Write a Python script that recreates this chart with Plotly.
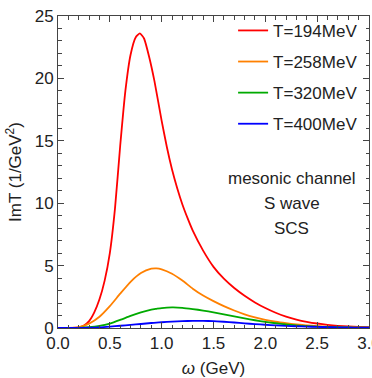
import plotly.graph_objects as go

omega = [0.0, 0.1, 0.2, 0.25, 0.3, 0.35, 0.4, 0.45, 0.5, 0.55, 0.6, 0.65, 0.7, 0.75, 0.79,
         0.83, 0.88, 0.93, 1.0, 1.05, 1.1, 1.15, 1.2, 1.25, 1.3, 1.4, 1.5, 1.6, 1.7, 1.8, 1.9, 2.0,
         2.1, 2.2, 2.3, 2.4, 2.5, 2.6, 2.7, 2.8, 2.9, 3.0]
im_194 = [0.0, 0.0, 0.05, 0.2, 0.55, 1.25, 2.3, 3.8, 6.0, 9.6, 14.6, 19.0, 21.9, 23.3, 23.6,
          23.2, 21.7, 19.8, 16.6, 14.5, 12.7, 11.2, 9.9, 8.8, 7.8, 6.2, 4.9, 3.95, 3.2, 2.58, 2.05, 1.6,
          1.22, 0.92, 0.68, 0.5, 0.36, 0.25, 0.17, 0.12, 0.08, 0.06]

omega_b = [0.0, 0.1, 0.2, 0.3, 0.4, 0.5, 0.6, 0.7, 0.8, 0.9, 0.95, 1.0, 1.1, 1.2, 1.3, 1.4,
           1.5, 1.6, 1.7, 1.8, 1.9, 2.0, 2.1, 2.2, 2.3, 2.4, 2.5, 2.6, 2.7, 2.8, 2.9, 3.0]
im_258 = [0.0, 0.0, 0.06, 0.35, 0.9, 1.75, 2.75, 3.7, 4.4, 4.75, 4.78, 4.7, 4.35, 3.8, 3.15, 2.6,
          2.15, 1.75, 1.4, 1.1, 0.86, 0.66, 0.5, 0.38, 0.28, 0.21, 0.15, 0.11, 0.08, 0.06, 0.04, 0.03]
im_320 = [0.0, 0.0, 0.01, 0.06, 0.17, 0.36, 0.65, 0.97, 1.25, 1.47, 1.54, 1.6, 1.65, 1.62, 1.52, 1.4,
          1.26, 1.1, 0.93, 0.77, 0.62, 0.49, 0.38, 0.29, 0.21, 0.15, 0.11, 0.08, 0.06, 0.04, 0.03, 0.02]
im_400 = [0.0, 0.0, 0.0, 0.02, 0.05, 0.11, 0.18, 0.25, 0.32, 0.4, 0.43, 0.46, 0.51, 0.55, 0.57, 0.57,
          0.55, 0.5, 0.44, 0.37, 0.31, 0.26, 0.21, 0.17, 0.14, 0.11, 0.09, 0.07, 0.05, 0.04, 0.03, 0.02]

series = [
    ("T=194MeV", omega, im_194, "#ff0000"),
    ("T=258MeV", omega_b, im_258, "#ff8000"),
    ("T=320MeV", omega_b, im_320, "#00aa00"),
    ("T=400MeV", omega_b, im_400, "#0000ff"),
]

x_ticks = [0.0, 0.5, 1.0, 1.5, 2.0, 2.5, 3.0]
y_ticks = [0, 5, 10, 15, 20, 25]

FONT = "Arial, Liberation Sans, sans-serif"

fig = go.Figure()
for i, (name, xs, ys, col) in enumerate(series):
    fig.add_trace(go.Scatter(x=xs, y=ys, mode="lines", name=name, legendgroup=str(i),
                             line=dict(color=col, width=1.8, shape="spline", smoothing=0.5)))

axis_common = dict(showline=True, linecolor="#444", linewidth=1, mirror="ticks",
                   ticks="inside", ticklen=6, tickcolor="#444", showgrid=False, zeroline=False,
                   automargin=False, ticklabeloverflow="allow",
                   tickfont=dict(family=FONT, size=17, color="#222"))

fig.update_xaxes(range=[0, 3], tickvals=x_ticks, tickformat=".1f",
                 minor=dict(ticks="inside", ticklen=3.5, dtick=0.1, tick0=0, tickcolor="#444"),
                 title=dict(text="<i>ω</i> (GeV)", font=dict(family=FONT, size=17, color="#222"), standoff=12),
                 **axis_common)
fig.update_yaxes(range=[0, 25], tickvals=y_ticks,
                 minor=dict(ticks="inside", ticklen=3.5, dtick=1, tick0=0, tickcolor="#444"),
                 title=dict(text="ImT (1/GeV<sup>2</sup>)", font=dict(family=FONT, size=17, color="#222"), standoff=8),
                 **axis_common)

notes = ["mesonic channel", "S wave", "SCS"]
note_y = [0.48, 0.40, 0.32]
for t, yy in zip(notes, note_y):
    fig.add_annotation(text=t, x=0.751, y=yy, xref="paper", yref="paper", showarrow=False,
                       xanchor="center", yanchor="middle",
                       font=dict(family=FONT, size=17, color="#222"))

fig.update_layout(
    width=372, height=378,
    margin=dict(l=58, r=3, t=16, b=50),
    plot_bgcolor="white", paper_bgcolor="white",
    legend=dict(x=0.563, y=1.01, xanchor="left", yanchor="top", bgcolor="rgba(0,0,0,0)",
                font=dict(family=FONT, size=17, color="#222"), tracegroupgap=6,
                itemwidth=30),
    showlegend=True,
)

fig.write_html("out.html")
